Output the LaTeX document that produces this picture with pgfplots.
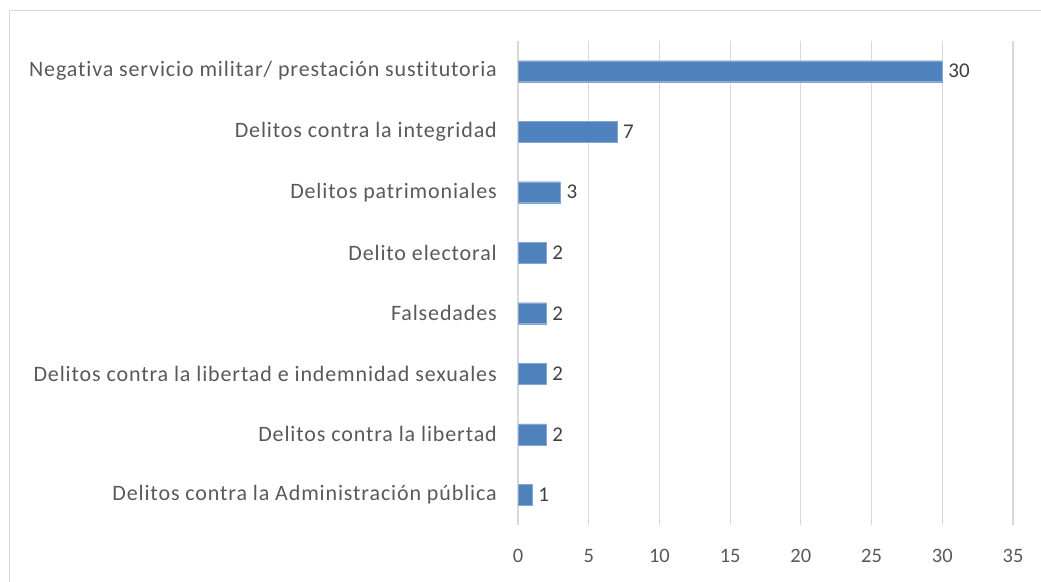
\documentclass[border=0pt]{standalone}
\usepackage{fontspec}
\setmainfont{Carlito}[Ligatures=NoCommon]
\newfontfamily\ancha{Carlito}[Ligatures=NoCommon, LetterSpace=4]
\usepackage{pgfplots}
\pgfplotsset{compat=1.18}
\definecolor{barra}{HTML}{4F81BD}
\definecolor{rejilla}{HTML}{D9D9D9}
\definecolor{etiqueta}{HTML}{595959}
\definecolor{valor}{HTML}{404040}
\definecolor{marco}{HTML}{D9D9D9}

\begin{document}
\fontsize{20.5}{24}\selectfont
\begin{tikzpicture}[x=1pt,y=1pt]
  \useasboundingbox (0,0) rectangle (1041,581);
  \draw[marco, line width=1pt] (9.5,-2) -- (9.5,570.5) -- (1045,570.5);
  \begin{axis}[
      at={(518pt,56pt)}, anchor=south west,
      scale only axis,
      width=495pt, height=484pt,
      xbar, bar width=21pt,
      xmin=0, xmax=35,
      ymin=-0.5, ymax=7.5,
      xtick={0,5,...,35},
      ytick={0,...,7},
      yticklabels={Delitos contra la Administración pública,
        Delitos contra la libertad,
        Delitos contra la libertad e indemnidad sexuales,
        Falsedades,
        Delito electoral,
        Delitos patrimoniales,
        Delitos contra la integridad,
        Negativa servicio militar/ prestación sustitutoria},
      xmajorgrids,
      grid style={rejilla, line width=1.2pt},
      axis line style={draw=none},
      major tick length=0pt,
      tick style={draw=none},
      /pgf/number format/assume math mode=true,
      ticklabel style={font=\fontsize{20.5}{24}\selectfont, text=etiqueta},
      yticklabel style={anchor=east, inner sep=0pt, xshift=-21pt, font=\ancha\fontsize{22}{26}\selectfont},
      xticklabel style={anchor=north, inner sep=0pt, yshift=-24pt},
      nodes near coords,
      nodes near coords style={font=\fontsize{21}{25}\selectfont, text=valor, anchor=west, inner sep=0pt, xshift=6pt},
    ]
    \addplot[fill=barra, draw=barra!70!white] coordinates {
      (1,0) (2,1) (2,2) (2,3) (2,4) (3,5) (7,6) (30,7)};
  \end{axis}
\end{tikzpicture}
\end{document}
